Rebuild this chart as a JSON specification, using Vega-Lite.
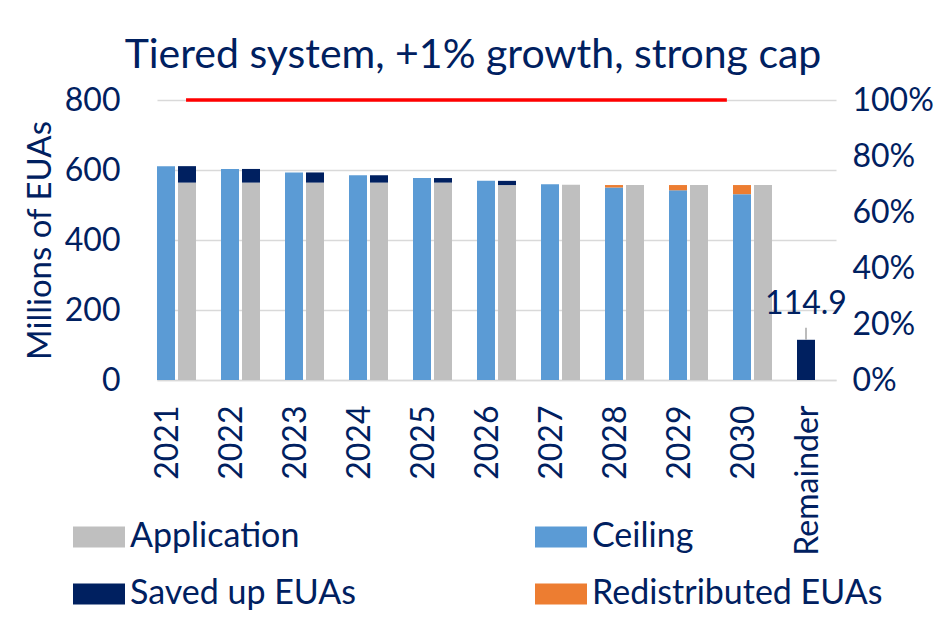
{
  "$schema": "https://vega.github.io/schema/vega-lite/v6.json",
  "autosize": {"type": "none"},
  "width": 661,
  "height": 280,
  "padding": {"left": 156, "top": 100, "right": 129, "bottom": 239},
  "background": "white",
  "config": {
    "font": "Lato",
    "view": {"stroke": null},
    "axis": {"labelColor": "#002060", "titleColor": "#002060", "labelFont": "Lato", "titleFont": "Lato"}
  },
  "title": {
    "text": "Tiered system, +1% growth, strong cap",
    "fontSize": 41,
    "fontWeight": "normal",
    "color": "#002060",
    "anchor": "middle",
    "dx": -13.5,
    "offset": 7
  },
  "datasets": {
    "bars": [
      {"cat": "2021", "slot": "A", "series": "Ceiling", "value": 611, "pos": 1},
      {"cat": "2021", "slot": "B", "series": "Application", "value": 564, "pos": 1},
      {"cat": "2021", "slot": "B", "series": "Saved up EUAs", "value": 47, "pos": 2},
      {"cat": "2022", "slot": "A", "series": "Ceiling", "value": 603, "pos": 1},
      {"cat": "2022", "slot": "B", "series": "Application", "value": 564, "pos": 1},
      {"cat": "2022", "slot": "B", "series": "Saved up EUAs", "value": 39, "pos": 2},
      {"cat": "2023", "slot": "A", "series": "Ceiling", "value": 593, "pos": 1},
      {"cat": "2023", "slot": "B", "series": "Application", "value": 564, "pos": 1},
      {"cat": "2023", "slot": "B", "series": "Saved up EUAs", "value": 29, "pos": 2},
      {"cat": "2024", "slot": "A", "series": "Ceiling", "value": 585, "pos": 1},
      {"cat": "2024", "slot": "B", "series": "Application", "value": 564, "pos": 1},
      {"cat": "2024", "slot": "B", "series": "Saved up EUAs", "value": 21, "pos": 2},
      {"cat": "2025", "slot": "A", "series": "Ceiling", "value": 577, "pos": 1},
      {"cat": "2025", "slot": "B", "series": "Application", "value": 564, "pos": 1},
      {"cat": "2025", "slot": "B", "series": "Saved up EUAs", "value": 13, "pos": 2},
      {"cat": "2026", "slot": "A", "series": "Ceiling", "value": 569, "pos": 1},
      {"cat": "2026", "slot": "B", "series": "Application", "value": 557, "pos": 1},
      {"cat": "2026", "slot": "B", "series": "Saved up EUAs", "value": 12, "pos": 2},
      {"cat": "2027", "slot": "A", "series": "Ceiling", "value": 559, "pos": 1},
      {"cat": "2027", "slot": "B", "series": "Application", "value": 558, "pos": 1},
      {"cat": "2028", "slot": "A", "series": "Ceiling", "value": 550, "pos": 1},
      {"cat": "2028", "slot": "A", "series": "Redistributed EUAs", "value": 7, "pos": 2},
      {"cat": "2028", "slot": "B", "series": "Application", "value": 557, "pos": 1},
      {"cat": "2029", "slot": "A", "series": "Ceiling", "value": 542, "pos": 1},
      {"cat": "2029", "slot": "A", "series": "Redistributed EUAs", "value": 15, "pos": 2},
      {"cat": "2029", "slot": "B", "series": "Application", "value": 557, "pos": 1},
      {"cat": "2030", "slot": "A", "series": "Ceiling", "value": 531, "pos": 1},
      {"cat": "2030", "slot": "A", "series": "Redistributed EUAs", "value": 26, "pos": 2},
      {"cat": "2030", "slot": "B", "series": "Application", "value": 557, "pos": 1},
      {"cat": "Remainder", "slot": "A", "series": "Saved up EUAs", "value": 114.9, "pos": 1}
    ],
    "cap": [
      {"cat": "2021", "share": 1},
      {"cat": "2022", "share": 1},
      {"cat": "2023", "share": 1},
      {"cat": "2024", "share": 1},
      {"cat": "2025", "share": 1},
      {"cat": "2026", "share": 1},
      {"cat": "2027", "share": 1},
      {"cat": "2028", "share": 1},
      {"cat": "2029", "share": 1},
      {"cat": "2030", "share": 1}
    ]
  },
  "layer": [
    {
      "data": {"name": "bars"},
      "layer": [
        {
          "mark": {"type": "bar"},
          "encoding": {
            "x": {
              "field": "cat",
              "type": "nominal",
              "scale": {
                "domain": ["2021", "2022", "2023", "2024", "2025", "2026", "2027", "2028", "2029", "2030", "Remainder"],
                "range": [1, 680],
                "paddingInner": 0.390625,
                "paddingOuter": 0
              },
              "axis": {
                "title": null,
                "labelAngle": 270,
                "labelFontSize": 32,
                "labelPadding": 25,
                "labelOffset": -8.5,
                "ticks": false,
                "domainColor": "#D9D9D9",
                "domainWidth": 1.5
              }
            },
            "xOffset": {
              "field": "slot",
              "type": "nominal",
              "scale": {"domain": ["A", "B"], "paddingInner": 0.142857, "paddingOuter": 0}
            },
            "y": {
              "field": "value",
              "type": "quantitative",
              "stack": "zero",
              "scale": {"domain": [0, 800]},
              "axis": {
                "orient": "left",
                "values": [0, 200, 400, 600, 800],
                "title": "Millions of EUAs",
                "titleFontSize": 33,
                "titleFontWeight": "normal",
                "titlePadding": 7,
                "labelFontSize": 32,
                "labelPadding": 36,
                "ticks": false,
                "domain": false,
                "grid": true,
                "gridColor": "#D9D9D9",
                "gridWidth": 1.3
              }
            },
            "color": {
              "field": "series",
              "type": "nominal",
              "scale": {
                "domain": ["Application", "Saved up EUAs", "Ceiling", "Redistributed EUAs"],
                "range": ["#BFBFBF", "#002060", "#5B9BD5", "#ED7D31"]
              },
              "legend": {
                "title": null,
                "orient": "none",
                "legendX": -83,
                "legendY": 411,
                "columns": 2,
                "columnPadding": 178,
                "rowPadding": 14,
                "symbolType": "M-1,-0.4H1V0.4H-1Z",
                "symbolSize": 2704,
                "symbolStrokeWidth": 0,
                "labelFontSize": 34,
                "labelColor": "#002060",
                "labelOffset": 5,
                "labelLimit": 400
              }
            },
            "order": {"field": "pos", "type": "quantitative"}
          }
        },
        {
          "transform": [{"filter": "datum.cat === 'Remainder'"}],
          "mark": {"type": "rule", "color": "#A6A6A6", "strokeWidth": 1.5},
          "encoding": {
            "x": {"field": "cat", "type": "nominal"},
            "xOffset": {"field": "slot", "type": "nominal"},
            "y": {"field": "value", "type": "quantitative", "scale": {"domain": [0, 800]}},
            "y2": {"datum": 149}
          }
        },
        {
          "transform": [{"filter": "datum.cat === 'Remainder'"}],
          "mark": {"type": "text", "fontSize": 32, "color": "#002060", "baseline": "alphabetic", "dy": -26},
          "encoding": {
            "x": {"field": "cat", "type": "nominal"},
            "xOffset": {"field": "slot", "type": "nominal"},
            "y": {"field": "value", "type": "quantitative", "scale": {"domain": [0, 800]}},
            "text": {"field": "value", "type": "quantitative", "format": ".1f"}
          }
        }
      ]
    },
    {
      "data": {"name": "cap"},
      "mark": {"type": "line", "color": "#FF0000", "strokeWidth": 3.5, "strokeCap": "butt"},
      "encoding": {
        "x": {
          "field": "cat",
          "type": "nominal",
          "scale": {
            "type": "point",
            "domain": ["2021", "2022", "2023", "2024", "2025", "2026", "2027", "2028", "2029", "2030", "Remainder"],
            "padding": 0.5
          },
          "axis": null
        },
        "y": {
          "field": "share",
          "type": "quantitative",
          "scale": {"domain": [0, 1]},
          "axis": {
            "orient": "right",
            "values": [0, 0.2, 0.4, 0.6, 0.8, 1],
            "format": ".0%",
            "title": null,
            "labelFontSize": 32,
            "labelPadding": 35,
            "ticks": false,
            "domain": false,
            "grid": false
          }
        }
      }
    }
  ],
  "resolve": {
    "scale": {"x": "independent", "y": "independent"},
    "axis": {"x": "independent", "y": "independent"}
  }
}
